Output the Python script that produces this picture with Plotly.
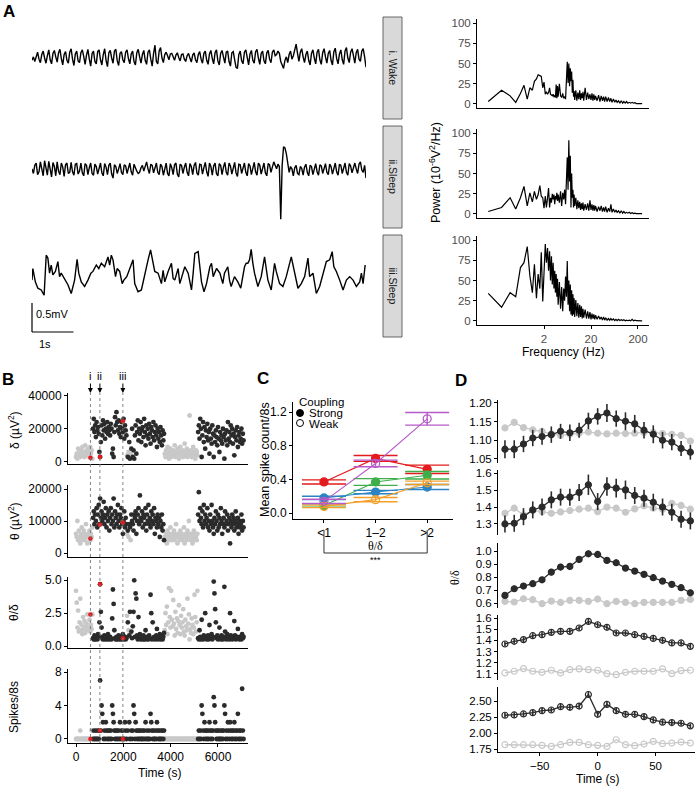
import math
import plotly.graph_objects as go

W, H = 700, 786
SANS = "Liberation Sans, Arial, Helvetica, sans-serif"
SERIF = "Liberation Serif, Times New Roman, serif"
DARK = "#2b2b2b"
LIGHT = "#c8c8c8"

# ---------------- Panel A : example EEG epochs (units 0.01 mV), 8 s each ----------------
trace_wake = [-4,2,-6,5,10,-2,-8,6,12,0, -9,4,14,-3,-10,8,13,2,-7,9, 15,-1,-12,6,11,-4,-9,10,16,-2,
              -13,7,12,-5,-8,9,14,3,-11,5, 15,-2,-14,8,12,-6,-10,11,14,-3, -12,6,16,-4,-15,9,13,0,-9,12,
              15,-5,-13,8,11,-3,-8,10,14,-1, -10,7,12,-6,-12,9,15,2,-9,6, 13,-4,-11,10,14,-2,-14,8,22,-6,
              -10,12,18,0,-8,6,10,4,-3,7, 8,2,-4,5,9,1,-5,6,7,-2, -6,4,8,0,-7,5,9,-3,-8,6,
              11,-2,-9,8,12,-4,-11,7,13,-1, -10,9,14,-5,-12,8,13,2,-9,10, 12,-6,-14,9,11,-3,-16,-18,6,12,
              -5,-10,10,14,-2,-12,7,13,-4,-9, 11,15,0,-11,8,12,-5,-10,9,13, -2,-8,10,14,4,6,12,8,-6,-14,
              -18,-4,2,-8,6,12,-2,4,14,24, 8,-6,10,16,2,-8,6,12,-4,-12, 8,14,0,-10,10,15,-3,-11,9,16,
              2,-9,8,13,-4,-12,11,17,-1,-10, 7,14,-3,-11,12,18,0,-8,10,16, 4,-9,9,15,-2,-6,12,16,2,-16]
trace_sleep2 = [2,-6,8,12,-8,-3,14,-2,-10,16, 4,-9,15,0,-12,13,6,-10,14,-2, -8,12,5,-11,9,12,-6,-4,13,-3,
                -9,10,11,-7,-2,12,-5,-10,11,8, -8,4,12,-6,-9,10,6,-7,3,12, -5,-10,11,5,-8,8,12,-7,-14,9,
                6,-6,2,11,-4,-8,9,7,-6,4, 12,-3,-9,10,3,-2,-6,-4,4,8, -2,6,14,2,-6,10,8,-5,6,12,
                -4,-8,10,6,-9,5,12,-6,-10,11, 4,-8,9,12,-7,-12,10,8,-6,5, 12,-4,-10,11,6,-8,8,13,-5,-9,
                10,9,-7,4,13,-3,-11,12,6,-9, 7,12,-6,-10,11,8,-8,5,13,-4, -9,12,7,-7,6,13,-5,-11,10,9,
                -6,3,12,-4,-10,11,7,-8,6,13, -3,-9,12,8,-7,4,12,-5,-10,11, 9,-4,6,14,8,2,10,6,-85,8,
                40,38,28,12,-4,6,2,-10,4,8, -6,-8,6,3,-9,5,10,-4,-10,8, 6,-8,4,11,-3,-9,9,7,-6,5,
                11,-4,-8,10,6,-7,4,12,-3,-9, 10,8,-6,5,12,-4,-9,11,7,-5, 6,12,2,-6,10,14,0,-4,8,-14]
trace_sleep3_t = [0.00,0.02,0.08,0.14,0.22,0.29,0.34,0.38,0.42,0.46,0.50,0.56,0.62,0.66,0.70,0.78,0.86,0.94,
                  1.02,1.08,1.12,1.18,1.26,1.34,1.41,1.46,1.54,1.60,1.66,1.74,1.82,1.86,1.90,1.94,2.00,2.04,
                  2.10,2.16,2.20,2.27,2.34,2.42,2.46,2.54,2.62,2.70,2.78,2.84,2.90,2.94,3.02,3.10,3.14,3.18,
                  3.26,3.34,3.38,3.42,3.50,3.54,3.59,3.66,3.74,3.82,3.86,3.90,3.98,4.02,4.06,4.12,4.18,4.26,
                  4.30,4.34,4.42,4.50,4.57,4.61,4.69,4.73,4.77,4.85,4.93,5.00,5.05,5.09,5.13,5.17,5.21,5.25,
                  5.29,5.33,5.41,5.49,5.57,5.61,5.65,5.73,5.81,5.85,5.93,6.01,6.09,6.21,6.29,6.37,6.45,6.53,
                  6.61,6.65,6.73,6.81,6.89,6.97,7.05,7.13,7.19,7.23,7.29,7.37,7.45,7.53,7.61,7.69,7.77,7.85,
                  7.89,7.93,7.98]
trace_sleep3 = [-14,6,-17,-28,-31,-40,29,24,-2,12,-5,1,18,-8,-2,-11,-22,-37,
                -14,22,-2,-17,-25,-14,-2,1,12,6,15,9,26,12,29,21,-8,6,
                1,-20,-14,-8,6,21,-20,-34,-31,-2,21,38,15,1,-2,-20,3,-17,
                1,15,-11,-14,6,-20,-8,9,-2,-31,-2,32,35,9,-17,-34,-20,9,
                15,-8,6,-2,-20,-2,9,-14,-25,-8,-17,-28,-8,9,15,15,21,39,
                15,-2,-25,-8,26,9,-14,-31,15,1,-20,-25,-8,26,-2,-28,-20,-8,
                24,-8,-2,-37,-25,-2,18,21,35,9,1,-14,-31,-14,-8,-14,-25,-17,
                -2,-20,12]
strip_labels = ["i. Wake", "ii.Sleep", "iii.Sleep"]

# power spectra (10^-6 V^2/Hz)
freq_hz = [0.13,0.25,0.38,0.5,0.63,0.75,0.88,1.0,1.13,1.25,1.38,1.5,1.63,1.75,1.88,2.0,2.13,2.25,2.38,2.5,
           2.63,2.75,2.88,3.0,3.13,3.25,3.38,3.5,3.63,3.75,3.88,4.0,4.25,4.5,4.75,5.0,5.25,5.5,5.75,6.0,
           6.25,6.5,6.75,7.0,7.25,7.5,7.75,8.0,8.25,8.5,8.75,9.0,9.5,10,10.5,11,11.5,12,12.5,13,13.5,14,
           15,16,17,18,19,20,21,22,23,24,25,27,29,31,33,35,37,39,41,44,47,50,53,56,60,64,68,72,77,82,88,
           94,100,107,114,122,130,140,150,160,172,185,200,215,230,245]
power_wake = [3,17,10,2,13,23,6,20,17,28,31,36, 35,34,20,27,12,15,12,14,20,12,11,10,
              12,9,10,8,24,7,22,9,25,10,8,13, 7,9,6,30,52,26,50,22,44,28,40,14,
              30,9,16,5,17,4,14,6,17,5,13,7, 15,4,20,5,14,6,12,5,13,4,12,5,
              10,4,11,3,10,4,9,3,9,3,8,3, 7,2,6,2,5,2,4,1,4,1,3,1,
              3,1,2,1,2,1,1.5,0.5,1,0.5,0.5,0.3]
power_sleep2 = [3,8,20,6,20,34,10,26,15,28,18,24, 35,22,20,7,22,8,20,32,8,20,14,25,
                18,24,12,22,18,26,16,24,14,28,10,26, 18,30,12,45,70,30,91,40,72,8,50,20,
                30,8,24,10,20,6,17,7,15,5,13,6, 14,4,12,5,13,4,17,5,12,4,11,4,
                10,3,9,4,10,3,8,3,9,2,7,3, 12,2,6,2,5,2,4,1,4,1,3,1,
                2,1,2,0.5,1.5,0.5,1,0.5,0.5,0.3,0.3,0.3]
power_sleep3 = [34,17,35,30,66,72,92,56,35,70,28,58, 40,85,24,70,95,72,90,62,86,50,80,45,
                72,40,62,35,58,30,52,20,48,15,42,12, 40,25,55,30,74,20,50,12,45,8,38,6,
                33,8,28,5,26,6,22,4,20,5,18,3, 15,4,14,3,12,3,11,2,9,3,8,2,
                7,2,6,2,5,1,5,1,4,1,3,1, 3,1,2.5,0.5,2,0.5,2,0.5,1.5,0.5,1.5,0.3,
                1,0.3,1,0.3,2,0.3,1,0.3,0.5,0.2,0.2,0.2]
freq_ticks = [2, 20, 200]

# ---------------- Panel B : 30-s epochs over the session ----------------
epoch_s = 30
state = "w" * 24 + "s" * 48 + "wswsswss" + "s" * 45 + "w" * 47 + "s" * 65
delta_k = [3,5,2,8,4,6,3,7,5,9,4,6,3,10,5,7,4,8,6,3,9,5,7,2,
           20,26,18,22,15,24,19,21,17,6,3,12, 22,16,25,19,23,14,20,18,24,17,21,19,
           16,23,20,5,8,3,18,27,22,30,24,19, 25,17,21,15,24,20,18,26,14,22,19,16,
           4,3,6,12,2,5,8,20,
           3,7,2,16,22,5,18,25,13,20,17,24, 12,19,21,15,26,18,10,22,16,20,14,23,
           17,11,21,19,15,24,13,18,22,16,9,20, 14,18,12,21,16,10,19,13,17,
           5,3,7,4,9,6,2,5,8,3,6,4, 7,5,10,3,6,4,8,5,2,6,9,4,
           5,7,3,6,11,4,5,8,3,6,4,28, 5,7,3,6,9,4,5,2,7,6,4,
           18,22,14,26,20,3,16,24,12,21,8,19, 15,23,13,18,5,20,14,11,22,17,3,16,
           12,19,15,10,21,14,6,18,13,16,11,20, 15,2,17,13,19,10,24,14,18,12,22,16,
           20,11,17,4,15,19,13,21,9,16,18,12, 14,20,11,17,13]
theta_k = [6,5,10,4,7,5,3,6,8,4,5,7,6,4,9,5,3,6,5,7,4,6,5,8,
           11,13,9,12,10,14,8,12,15,9,17,11, 13,10,12,16,9,11,14,8,12,10,13,7,
           11,14,9,12,10,17,8,13,11,9,12,15, 10,8,12,11,14,9,6,10,13,8,11,9,
           6,7,5,9,8,4,12,10,
           9,7,12,11,13,6,10,12,14,9,18,11, 10,13,8,12,11,9,14,7,12,10,15,9,
           11,8,13,10,12,9,14,6,11,10,8,12, 9,11,5,10,8,12,7,9,4,
           5,4,6,3,7,5,4,6,8,5,4,6, 5,7,4,6,9,5,3,6,5,4,7,5,
           6,4,5,8,3,5,6,4,7,5,10,6, 5,4,6,3,5,7,4,6,5,4,6,
           12,19,10,14,11,9,13,8,15,10,12,9, 11,14,8,10,7,12,9,15,10,8,6,11,
           9,13,10,7,12,8,11,9,14,10,6,9, 11,8,13,9,10,12,7,9,11,3,10,8,
           12,9,11,7,10,13,8,9,11,6,10,8, 9,12,7,10,8]
ratio = [4.2,3.3,1.4,2.7,1.1,1.8,3.6,1.2,1.6,0.9,2.2,1.3,1.9,1.0,1.5,1.7,2.4,1.2,1.4,2.0,1.1,1.6,1.3,2.4,
         0.6,0.5,0.8,0.5,0.7,0.6,0.5,0.9,0.6,1.8,4.7,2.6, 1.4,0.7,0.5,0.6,0.8,0.5,0.7,0.6,0.5,0.9,0.6,0.5,
         0.7,0.6,0.5,2.1,4.3,3.2,1.2,0.6,0.5,0.7,0.5,0.6, 0.8,0.5,0.6,0.7,0.5,0.6,0.9,0.5,0.6,0.7,0.5,0.6,
         2.3,1.8,1.2,0.8,2.6,1.0,1.1,0.6,
         1.5,2.6,5.0,0.7,4.0,3.6,0.8,0.5,2.2,0.6,0.9,0.5, 0.6,0.7,0.5,0.8,0.5,0.6,1.2,0.5,0.7,0.6,0.5,0.8,
         0.6,3.9,2.5,0.5,1.8,0.6,0.7,0.5,0.6,0.8,1.3,0.5, 0.7,0.6,0.9,0.5,0.6,0.8,0.5,0.7,1.0,
         1.2,2.5,1.6,3.0,0.9,1.8,4.4,2.2,1.4,4.2,2.0,1.5, 3.5,1.7,0.8,2.6,1.3,2.1,1.0,1.9,3.1,1.6,0.9,2.3,
         1.4,1.8,2.8,1.1,0.8,2.0,1.5,1.2,3.6,1.7,2.4,0.5, 1.3,1.0,2.1,1.6,0.9,1.4,3.9,2.2,1.1,1.8,4.2,
         0.6,0.5,1.2,0.7,0.5,2.0,0.6,0.5,0.8,0.6,2.5,0.7, 0.5,0.6,0.8,0.5,1.6,0.7,0.6,0.9,0.5,0.7,4.9,4.0,
         2.8,1.8,0.6,0.8,0.5,0.7,1.4,0.6,0.5,0.8,0.6,0.5, 0.7,4.5,1.1,0.6,0.5,0.9,0.6,0.7,0.5,2.5,0.8,0.6,
         0.5,0.7,0.6,1.9,0.8,0.5,0.6,0.7,1.3,0.6,0.5,0.7, 0.6,0.5,0.9,0.6,0.7]
spikes = [0,0,0,0,0,0,1,0,0,0,0,0,0,0,0,0,0,0,0,0,0,0,1,0,
          0,1,0,0,1,0,0,1,0,1,7,1, 4,3,2,0,1,0,2,1,0,1,0,1,
          0,1,0,4,3,2,1,0,1,0,1,0, 1,0,2,0,1,0,1,0,0,2,1,0,
          0,1,0,2,0,0,1,0,
          1,4,3,0,2,1,0,1,0,1,0,1, 0,0,1,0,1,0,2,0,1,0,0,1,
          0,3,2,1,0,1,0,0,1,0,2,1, 0,1,0,0,1,0,1,0,1,
          0,0,0,0,0,0,0,0,0,0,0,0, 0,0,0,0,0,0,0,0,0,0,0,0,
          0,0,0,0,0,0,0,0,0,0,0,0, 0,0,0,0,0,0,0,0,0,0,0,
          0,1,0,1,0,4,3,1,0,2,1,0, 1,0,1,0,2,1,0,1,0,1,5,4,
          2,1,0,1,0,1,0,0,1,0,1,0, 1,4,3,0,1,0,2,1,0,2,1,0,
          1,0,1,2,0,1,0,1,3,0,1,0, 1,0,6,1,0]
mark_labels = ["i", "ii", "iii"]
mark_time = [610, 1010, 1980]
mark_delta_k = [2.5, 3.0, 24.5]
mark_theta_k = [4.5, 8.8, 9.5]
mark_ratio = [2.4, 4.7, 0.6]
mark_spikes = [0, 1, 0]

# ---------------- Panel C ----------------
c_labels = ["&lt;1", "1–2", "&gt;2"]
c_pos = [1, 2, 3]
c_names = ["red", "green", "blue", "orange", "purple"]
c_colors = {"red": "#E41A1C", "green": "#3DAE4A", "blue": "#2C83C4", "orange": "#F2A02A", "purple": "#B65BC9"}
c_weak = {"red": False, "green": False, "blue": False, "orange": True, "purple": True}
c_mean = {"red": [0.37, 0.65, 0.52], "green": [0.09, 0.37, 0.45], "blue": [0.18, 0.25, 0.31],
          "orange": [0.08, 0.16, 0.36], "purple": [0.14, 0.59, 1.12]}
c_ci = {"red": [0.025, 0.035, 0.05], "green": [0.02, 0.04, 0.045], "blue": [0.02, 0.02, 0.03],
        "orange": [0.015, 0.025, 0.02], "purple": [0.025, 0.04, 0.075]}

# ---------------- Panel D ----------------
d_time = [-80,-72,-64,-56,-48,-40,-32,-24,-16,-8,0,8,16,24,32,40,48,56,64,72,80]
d_dark = [
    [1.076,1.076,1.090,1.106,1.110,1.115,1.124,1.120,1.127,1.152,1.164,1.173,1.158,1.151,1.144,1.127,1.116,1.100,1.095,1.078,1.068],
    [1.300,1.304,1.343,1.383,1.400,1.442,1.458,1.458,1.486,1.531,1.432,1.521,1.511,1.501,1.468,1.452,1.428,1.400,1.369,1.328,1.318],
    [0.659,0.710,0.731,0.749,0.779,0.838,0.877,0.882,0.936,0.979,0.974,0.928,0.910,0.869,0.846,0.821,0.795,0.769,0.744,0.718,0.679],
    [1.368,1.392,1.407,1.442,1.451,1.472,1.481,1.481,1.511,1.570,1.540,1.517,1.466,1.466,1.451,1.436,1.418,1.401,1.377,1.377,1.347],
    [2.278,2.283,2.298,2.319,2.350,2.360,2.412,2.402,2.422,2.603,2.293,2.448,2.350,2.293,2.293,2.257,2.205,2.169,2.164,2.153,2.112]]
d_err = [
    [0.024,0.024,0.022,0.022,0.022,0.022,0.020,0.022,0.020,0.022,0.022,0.024,0.022,0.024,0.024,0.022,0.024,0.022,0.022,0.020,0.020],
    [0.050,0.050,0.050,0.050,0.050,0.050,0.050,0.050,0.050,0.060,0.050,0.055,0.055,0.055,0.050,0.050,0.050,0.050,0.050,0.050,0.050],
    [0.022,0.022,0.022,0.022,0.022,0.025,0.025,0.025,0.025,0.025,0.025,0.025,0.025,0.022,0.022,0.022,0.022,0.022,0.022,0.022,0.022],
    [0.022,0.022,0.022,0.022,0.022,0.022,0.022,0.022,0.022,0.025,0.022,0.022,0.022,0.022,0.022,0.022,0.022,0.022,0.022,0.022,0.022],
    [0.040,0.040,0.040,0.040,0.040,0.040,0.045,0.045,0.045,0.050,0.040,0.045,0.045,0.040,0.040,0.040,0.040,0.040,0.040,0.040,0.035]]
d_grey = [
    [1.133,1.148,1.134,1.128,1.124,1.117,1.113,1.116,1.119,1.122,1.119,1.117,1.119,1.118,1.119,1.121,1.121,1.118,1.116,1.113,1.098],
    [1.363,1.393,1.353,1.379,1.373,1.363,1.371,1.379,1.387,1.393,1.373,1.399,1.393,1.369,1.389,1.407,1.393,1.387,1.422,1.409,1.387],
    [0.613,0.608,0.633,0.626,0.595,0.615,0.605,0.621,0.621,0.613,0.631,0.595,0.613,0.605,0.595,0.605,0.605,0.605,0.605,0.621,0.628],
    [1.109,1.124,1.148,1.124,1.115,1.133,1.109,1.139,1.145,1.139,1.133,1.103,1.094,1.115,1.124,1.124,1.124,1.145,1.103,1.130,1.133],
    [1.817,1.817,1.817,1.817,1.807,1.791,1.817,1.853,1.853,1.817,1.807,1.791,1.895,1.817,1.802,1.827,1.869,1.833,1.843,1.859,1.843]]
d_open = [False, False, False, True, True]
d_ticks = [[1.05, 1.10, 1.15, 1.20], [1.3, 1.4, 1.5, 1.6], [0.6, 0.7, 0.8, 0.9, 1.0],
           [1.1, 1.2, 1.3, 1.4, 1.5, 1.6], [1.75, 2.00, 2.25, 2.50]]
d_fmt = [".2f", ".1f", ".1f", ".1f", ".2f"]


# ================= figure construction =================
def fx(px):
    return px / W


def fy(py):
    return 1 - py / H


fig = go.Figure()
layout = dict(width=W, height=H, margin=dict(l=0, r=0, t=0, b=0, autoexpand=False), template="none",
              paper_bgcolor="white", plot_bgcolor="white", showlegend=False,
              font=dict(family=SANS, size=12, color="black"))
shapes, annots = [], []


def base_axis(size=12, color="black", line=True, ticks=True, labels=True, visible=True):
    return dict(visible=visible, showgrid=False, zeroline=False, showline=line, linecolor="black",
                linewidth=1, ticks="outside" if ticks else "", ticklen=3, tickwidth=1, tickcolor="black",
                showticklabels=labels, tickfont=dict(family=SANS, size=size, color=color))


def add_axes(n, xpx, ypx, xkw, ykw):
    s = "" if n == 1 else str(n)
    xd = dict(domain=[fx(xpx[0]), fx(xpx[1])], anchor="y" + s)
    yd = dict(domain=[fy(ypx[1]), fy(ypx[0])], anchor="x" + s)
    xd.update(xkw)
    yd.update(ykw)
    layout["xaxis" + s] = xd
    layout["yaxis" + s] = yd
    return "x" + s, "y" + s


def text(t, x, y, size=12, angle=0, family=SANS, color="black", xanchor="center", bold=False):
    if bold:
        t = "<b>" + t + "</b>"
    annots.append(dict(text=t, x=fx(x), y=fy(y), xref="paper", yref="paper", showarrow=False,
                       textangle=angle, xanchor=xanchor, yanchor="middle",
                       font=dict(family=family, size=size, color=color)))


# ---------- Panel A traces ----------
trace_specs = [(trace_wake, None, (28, 88), 58), (trace_sleep2, None, (120, 230), 170),
               (trace_sleep3, trace_sleep3_t, (240, 305), 272)]
for i, (vals, tt, ydom, zero_px) in enumerate(trace_specs):
    n = i + 1
    mv_per_px = 1 / 58.0
    yr = [-(ydom[1] - zero_px) * mv_per_px, (zero_px - ydom[0]) * mv_per_px]
    xa, ya = add_axes(n, (32, 366), ydom, dict(visible=False, range=[0, 8]),
                      dict(visible=False, range=yr))
    if tt is None:
        tt = [8.0 * k / (len(vals) - 1) for k in range(len(vals))]
    m = min(len(tt), len(vals))
    fig.add_trace(go.Scatter(x=tt[:m], y=[v / 100 for v in vals[:m]], xaxis=xa, yaxis=ya, mode="lines",
                             line=dict(color="black", width=1.4), hoverinfo="skip"))

# strip boxes
for (top, bot), lab in zip([(17, 119), (126, 228), (235, 337)], strip_labels):
    shapes.append(dict(type="rect", xref="paper", yref="paper", x0=fx(383), x1=fx(402), y0=fy(bot), y1=fy(top),
                       fillcolor="#d9d9d9", line=dict(color="#444444", width=0.8), layer="below"))
    text(lab, 392.5, (top + bot) / 2, size=10.5, angle=90, color="#1a1a1a")

# scale bar
shapes.append(dict(type="line", xref="paper", yref="paper", x0=fx(32), x1=fx(32), y0=fy(303), y1=fy(332),
                   line=dict(color="black", width=1.2)))
shapes.append(dict(type="line", xref="paper", yref="paper", x0=fx(32), x1=fx(73.5), y0=fy(332), y1=fy(332),
                   line=dict(color="black", width=1.2)))
text("0.5mV", 52, 314, size=11)
text("1s", 45, 344, size=11)

# spectra
spec_dom = [(19, 108), (129, 218), (236, 325)]
for i, (pw, yd) in enumerate(zip([power_wake, power_sleep2, power_sleep3], spec_dom)):
    n = 4 + i
    bottom = i == 2
    xk = base_axis(size=11.5, color="#4d4d4d", ticks=bottom, labels=bottom)
    xk.update(type="log", range=[math.log10(0.075), math.log10(343)], tickvals=freq_ticks,
              ticktext=[str(v) for v in freq_ticks])
    yk = base_axis(size=11.5, color="#4d4d4d")
    yk.update(range=[-5, 105], tickvals=[0, 25, 50, 75, 100])
    xa, ya = add_axes(n, (477, 649), yd, xk, yk)
    m = min(len(freq_hz), len(pw))
    fig.add_trace(go.Scatter(x=freq_hz[:m], y=pw[:m], xaxis=xa, yaxis=ya, mode="lines",
                             line=dict(color="black", width=1.2), hoverinfo="skip"))
text("Power (10<sup>-6</sup>V<sup>2</sup>/Hz)", 435, 173, size=12.5, angle=-90)
text("Frequency (Hz)", 563, 352, size=12)

# ---------- Panel B ----------
nB = min(len(state), len(delta_k), len(theta_k), len(ratio), len(spikes))
times = [k * epoch_s for k in range(nB)]
b_specs = [
    ([v * 1000 for v in delta_k], [v * 1000 for v in mark_delta_k], (393, 464), [-1230, 41540], [0, 20000, 40000], "d", "δ (µV<sup>2</sup>)", 430),
    ([v * 1000 for v in theta_k], [v * 1000 for v in mark_theta_k], (485, 557), [-1250, 21250], [0, 10000, 20000], "d", "θ (µV<sup>2</sup>)", 521),
    (ratio, mark_ratio, (577, 648), [-0.15, 5.25], [0, 2.5, 5.0], ".1f", "θ/δ", 613),
    (spikes, mark_spikes, (669, 743), [-0.48, 8.36], [0, 4, 8], "d", "Spikes/8s", 707),
]
b_first_x = None
for i, (vals, mv, yd, yr, tv, fmt, lab, ly) in enumerate(b_specs):
    n = 7 + i
    bottom = i == 3
    xk = base_axis(size=12, ticks=bottom, labels=bottom)
    xk.update(range=[-338, 7268], tickvals=[0, 2000, 4000, 6000], tickformat="d")
    yk = base_axis(size=12)
    yk.update(range=yr, tickvals=tv, tickformat=fmt)
    xa, ya = add_axes(n, (68, 248), yd, xk, yk)
    if b_first_x is None:
        b_first_x = xa
    for st, col in (("w", LIGHT), ("s", DARK)):
        xs = [times[k] for k in range(nB) if state[k] == st]
        ys = [vals[k] for k in range(nB) if state[k] == st]
        fig.add_trace(go.Scatter(x=xs, y=ys, xaxis=xa, yaxis=ya, mode="markers",
                                 marker=dict(color=col, size=4.8, line=dict(width=0)), hoverinfo="skip"))
    fig.add_trace(go.Scatter(x=mark_time, y=mv, xaxis=xa, yaxis=ya, mode="markers",
                             marker=dict(color="#E41A1C", size=4.5), hoverinfo="skip"))
    text(lab, 14, ly, size=12, angle=-90)
text("Time (s)", 160, 773, size=12)
for t, lab in zip(mark_time, mark_labels):
    shapes.append(dict(type="line", xref=b_first_x, yref="paper", x0=t, x1=t, y0=fy(743), y1=fy(393),
                       line=dict(color="#777777", width=0.9, dash="dot")))
    annots.append(dict(text=lab, x=t, y=fy(393), xref=b_first_x, yref="paper", showarrow=True,
                       arrowhead=2, arrowsize=1, arrowwidth=1, arrowcolor="black", ax=0, ay=-17,
                       font=dict(family=SANS, size=11, color="black")))

# ---------- Panel C ----------
xk = base_axis(size=12)
xk.update(range=[0.4, 3.5], tickvals=c_pos, ticktext=c_labels)
yk = base_axis(size=12)
yk.update(range=[-0.07, 1.32], tickvals=[0, 0.4, 0.8, 1.2], tickformat=".1f")
xc, yc = add_axes(11, (293, 453), (402, 519), xk, yk)
for nm in c_names:
    col = c_colors[nm]
    sym = "circle-open" if c_weak[nm] else "circle"
    fig.add_trace(go.Scatter(x=c_pos, y=c_mean[nm], xaxis=xc, yaxis=yc, mode="lines+markers",
                             line=dict(color=col, width=1.1),
                             marker=dict(color=col, size=8, symbol=sym, line=dict(width=1.3, color=col)),
                             error_y=dict(type="data", array=c_ci[nm], visible=True, color=col,
                                          thickness=1.4, width=22),
                             hoverinfo="skip"))
text("Mean spike count/8s", 265, 460, size=12.5, angle=-90)
text("θ/δ", 375, 546, size=12, family=SERIF)
for (x0, y0, x1, y1) in [(1, 530, 1, 553), (1, 553, 3, 553), (3, 553, 3, 530)]:
    shapes.append(dict(type="line", xref=xc, yref="paper", x0=x0, x1=x1, y0=fy(y0), y1=fy(y1),
                       line=dict(color="#333333", width=1)))
text("***", 375, 560, size=9)
text("Coupling", 297, 401.5, size=11.5, xanchor="left")
shapes.append(dict(type="circle", xref="paper", yref="paper", x0=fx(296.5), x1=fx(303.5), y0=fy(416.5),
                   y1=fy(409.5), fillcolor="black", line=dict(color="black", width=1)))
shapes.append(dict(type="circle", xref="paper", yref="paper", x0=fx(296.5), x1=fx(303.5), y0=fy(426.5),
                   y1=fy(419.5), line=dict(color="black", width=1)))
text("Strong", 307, 413, size=11.5, xanchor="left")
text("Weak", 307, 424, size=11.5, xanchor="left")

# ---------- Panel D ----------
d_dom = [(400, 463), (470, 535), (543, 608), (615, 680), (687, 752)]
d_rng = [[1.039, 1.208], [1.235, 1.618], [0.562, 1.062], [1.046, 1.627], [1.703, 2.72]]
for i in range(5):
    n = 12 + i
    bottom = i == 4
    xk = base_axis(size=11.5, visible=bottom)
    xk.update(range=[-86, 84], tickvals=[-50, 0, 50])
    yk = base_axis(size=11.5)
    yk.update(range=d_rng[i], tickvals=d_ticks[i], tickformat=d_fmt[i])
    xa, ya = add_axes(n, (498, 695), d_dom[i], xk, yk)
    sym = "circle-open" if d_open[i] else "circle"
    fig.add_trace(go.Scatter(x=d_time, y=d_grey[i], xaxis=xa, yaxis=ya, mode="lines+markers",
                             line=dict(color=LIGHT, width=1.3),
                             marker=dict(color=LIGHT, size=6, symbol=sym, line=dict(width=1.2, color=LIGHT)),
                             hoverinfo="skip"))
    fig.add_trace(go.Scatter(x=d_time, y=d_dark[i], xaxis=xa, yaxis=ya, mode="lines+markers",
                             line=dict(color=DARK, width=1.3),
                             marker=dict(color=DARK, size=6, symbol=sym, line=dict(width=1.2, color=DARK)),
                             error_y=dict(type="data", array=d_err[i], visible=True, color=DARK,
                                          thickness=1.6, width=0),
                             hoverinfo="skip"))
text("θ/δ", 455, 578, size=12, angle=-90, family=SERIF)
text("Time (s)", 598, 778.5, size=12)

# panel letters
for lab, x, y in [("A", 9, 11), ("B", 8, 379), ("C", 263, 378), ("D", 461, 380)]:
    text(lab, x, y, size=17, bold=True)

layout["shapes"] = shapes
layout["annotations"] = annots
fig.update_layout(**layout)
fig.write_html("out.html", config={"displayModeBar": False, "staticPlot": True},
               post_script="document.body.style.margin='0px';document.body.style.padding='0px';")
